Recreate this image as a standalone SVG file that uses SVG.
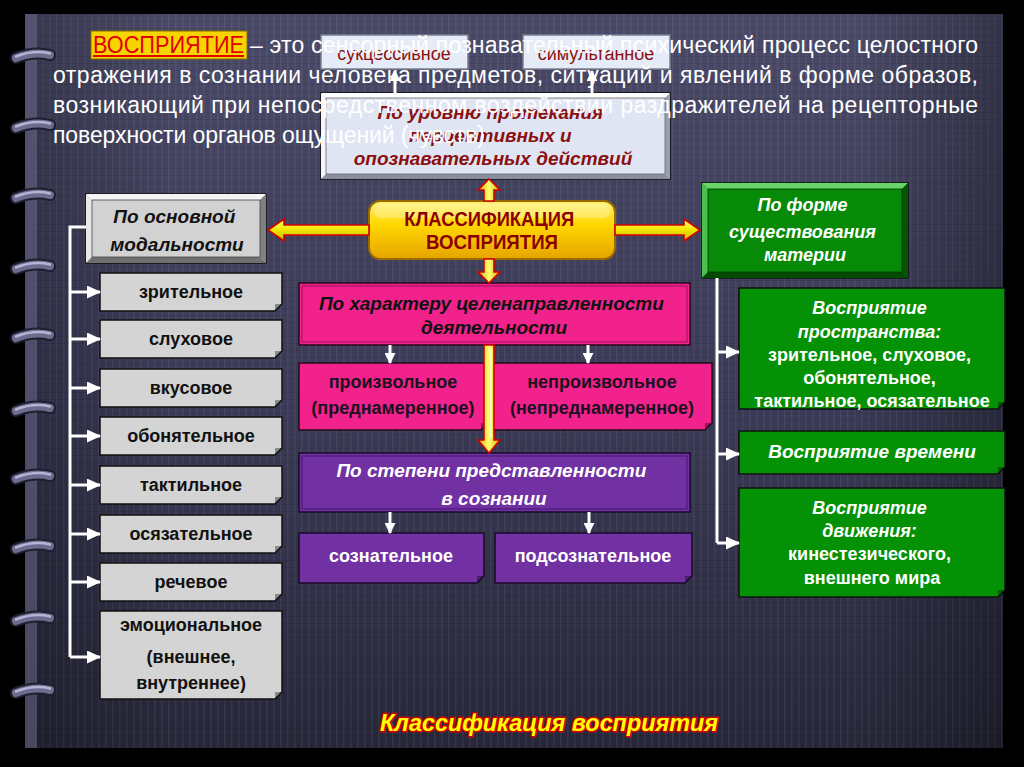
<svg xmlns="http://www.w3.org/2000/svg" width="1024" height="767" viewBox="0 0 1024 767">
<defs>
  <linearGradient id="panelG" x1="0" y1="0" x2="0" y2="1">
    <stop offset="0" stop-color="#4a4a68"/>
    <stop offset="0.55" stop-color="#3a3a56"/>
    <stop offset="1" stop-color="#27273a"/>
  </linearGradient>
  <linearGradient id="panelH" x1="0" y1="0" x2="1" y2="0">
    <stop offset="0" stop-color="#000" stop-opacity="0.25"/>
    <stop offset="0.15" stop-color="#000" stop-opacity="0"/>
    <stop offset="0.85" stop-color="#000" stop-opacity="0"/>
    <stop offset="1" stop-color="#000" stop-opacity="0.3"/>
  </linearGradient>
  <pattern id="stripes" width="7" height="7" patternUnits="userSpaceOnUse">
    <rect x="0" y="0" width="1.5" height="7" fill="#ffffff" fill-opacity="0.06"/>
    <rect x="0" y="0" width="7" height="1" fill="#000000" fill-opacity="0.08"/>
  </pattern>
  <linearGradient id="goldG" x1="0" y1="0" x2="0" y2="1">
    <stop offset="0" stop-color="#fff27a"/>
    <stop offset="0.4" stop-color="#ffd800"/>
    <stop offset="1" stop-color="#e6a400"/>
  </linearGradient>
  <linearGradient id="arrH" x1="0" y1="0" x2="0" y2="1">
    <stop offset="0" stop-color="#ffff70"/>
    <stop offset="0.5" stop-color="#f2e600"/>
    <stop offset="1" stop-color="#c8b400"/>
  </linearGradient>
  <linearGradient id="arrV" x1="0" y1="0" x2="1" y2="0">
    <stop offset="0" stop-color="#c8b400"/>
    <stop offset="0.5" stop-color="#ffff70"/>
    <stop offset="1" stop-color="#c8b400"/>
  </linearGradient>
  <linearGradient id="ringG" x1="0" y1="0" x2="0" y2="1">
    <stop offset="0" stop-color="#9a9abc"/>
    <stop offset="0.5" stop-color="#6a6a8c"/>
    <stop offset="1" stop-color="#2a2a40"/>
  </linearGradient>
  <marker id="wh" markerWidth="14" markerHeight="13" refX="13" refY="6.5" orient="auto" markerUnits="userSpaceOnUse">
    <path d="M0,0 L14,6.5 L0,13 Z" fill="#ffffff"/>
  </marker>
  <marker id="whs" markerWidth="11" markerHeight="11" refX="10" refY="5.5" orient="auto" markerUnits="userSpaceOnUse">
    <path d="M0,0 L11,5.5 L0,11 Z" fill="#ffffff"/>
  </marker>
  <path id="ringShape" d="M16,1 Q34,-6 50,-2"/>
  <style>
    .t { font-family: "Liberation Sans", Arial, sans-serif; text-anchor: middle; }
    .b { font-weight: bold; }
    .i { font-style: italic; font-weight: bold; }
    .grey { fill: #d4d4d4; stroke: #111; stroke-width: 1.5; }
    .green { fill: #059105; stroke: #111; stroke-width: 1.5; }
    .pink { fill: #f2228c; stroke: #2a0a1a; stroke-width: 1.5; }
    .purple { fill: #7131a3; stroke: #1a0a2a; stroke-width: 1.5; }
    .fold { fill: #000; fill-opacity: 0.35; }
    .wline { fill: none; stroke: #ffffff; stroke-width: 3; }
    .yarr { stroke: #d40000; stroke-width: 1.6; stroke-linejoin: miter; }
    .para { font-family: "Liberation Sans", Arial, sans-serif; font-size: 23px; fill: #ffffff; }
    .ring { fill: none; stroke-linecap: round; }
  </style>
</defs>

<!-- background -->
<rect x="0" y="0" width="1024" height="767" fill="#000"/>
<rect x="25" y="14" width="978" height="734" fill="url(#panelG)"/>
<rect x="25" y="14" width="978" height="734" fill="url(#stripes)"/>
<rect x="25" y="14" width="978" height="734" fill="url(#panelH)"/>
<rect x="25" y="14" width="12" height="734" fill="#6a6a8a" fill-opacity="0.55"/>

<!-- rings -->
<g id="rings">
  <g transform="translate(0,57)"><use href="#ringShape" class="ring" stroke="#1e1e2e" stroke-width="12"/><use href="#ringShape" class="ring" stroke="#6c6c8e" stroke-width="8"/><use href="#ringShape" class="ring" stroke="#b4b4d4" stroke-width="2.5" transform="translate(0,-1.5)"/></g>
  <g transform="translate(0,127)"><use href="#ringShape" class="ring" stroke="#1e1e2e" stroke-width="12"/><use href="#ringShape" class="ring" stroke="#6c6c8e" stroke-width="8"/><use href="#ringShape" class="ring" stroke="#b4b4d4" stroke-width="2.5" transform="translate(0,-1.5)"/></g>
  <g transform="translate(0,197)"><use href="#ringShape" class="ring" stroke="#1e1e2e" stroke-width="12"/><use href="#ringShape" class="ring" stroke="#6c6c8e" stroke-width="8"/><use href="#ringShape" class="ring" stroke="#b4b4d4" stroke-width="2.5" transform="translate(0,-1.5)"/></g>
  <g transform="translate(0,268)"><use href="#ringShape" class="ring" stroke="#1e1e2e" stroke-width="12"/><use href="#ringShape" class="ring" stroke="#6c6c8e" stroke-width="8"/><use href="#ringShape" class="ring" stroke="#b4b4d4" stroke-width="2.5" transform="translate(0,-1.5)"/></g>
  <g transform="translate(0,337)"><use href="#ringShape" class="ring" stroke="#1e1e2e" stroke-width="12"/><use href="#ringShape" class="ring" stroke="#6c6c8e" stroke-width="8"/><use href="#ringShape" class="ring" stroke="#b4b4d4" stroke-width="2.5" transform="translate(0,-1.5)"/></g>
  <g transform="translate(0,410)"><use href="#ringShape" class="ring" stroke="#1e1e2e" stroke-width="12"/><use href="#ringShape" class="ring" stroke="#6c6c8e" stroke-width="8"/><use href="#ringShape" class="ring" stroke="#b4b4d4" stroke-width="2.5" transform="translate(0,-1.5)"/></g>
  <g transform="translate(0,478)"><use href="#ringShape" class="ring" stroke="#1e1e2e" stroke-width="12"/><use href="#ringShape" class="ring" stroke="#6c6c8e" stroke-width="8"/><use href="#ringShape" class="ring" stroke="#b4b4d4" stroke-width="2.5" transform="translate(0,-1.5)"/></g>
  <g transform="translate(0,548)"><use href="#ringShape" class="ring" stroke="#1e1e2e" stroke-width="12"/><use href="#ringShape" class="ring" stroke="#6c6c8e" stroke-width="8"/><use href="#ringShape" class="ring" stroke="#b4b4d4" stroke-width="2.5" transform="translate(0,-1.5)"/></g>
  <g transform="translate(0,620)"><use href="#ringShape" class="ring" stroke="#1e1e2e" stroke-width="12"/><use href="#ringShape" class="ring" stroke="#6c6c8e" stroke-width="8"/><use href="#ringShape" class="ring" stroke="#b4b4d4" stroke-width="2.5" transform="translate(0,-1.5)"/></g>
  <g transform="translate(0,692)"><use href="#ringShape" class="ring" stroke="#1e1e2e" stroke-width="12"/><use href="#ringShape" class="ring" stroke="#6c6c8e" stroke-width="8"/><use href="#ringShape" class="ring" stroke="#b4b4d4" stroke-width="2.5" transform="translate(0,-1.5)"/></g>
</g>

<!-- top small nodes -->
<g id="n-sukcess">
  <rect x="321" y="35" width="147" height="34" fill="#e6ecf7" stroke="#7a7f90" stroke-width="1.5"/>
  <text class="t" x="394" y="60" font-size="18" fill="#8b1010">сукцессивное</text>
</g>
<g id="n-simult">
  <rect x="523" y="35" width="147" height="34" fill="#e6ecf7" stroke="#7a7f90" stroke-width="1.5"/>
  <text class="t" x="596" y="60" font-size="18" fill="#8b1010">симультанное</text>
</g>

<!-- По уровню протекания -->
<g id="n-uroven">
  <rect x="321" y="93" width="349" height="86" fill="#dfe5f2" stroke="#111" stroke-width="1.5"/>
  <polygon points="321,93 670,93 665,98 326,98" fill="#ffffff"/>
  <polygon points="321,93 326,98 326,174 321,179" fill="#f4f6fb"/>
  <polygon points="321,179 326,174 665,174 670,179" fill="#8a8fa0"/>
  <polygon points="670,93 670,179 665,174 665,98" fill="#9a9fb0"/>
  <rect x="326" y="98" width="339" height="76" fill="none" stroke="#666" stroke-width="0.8"/>
  <text class="t i" font-size="19" fill="#8b1010">
    <tspan x="493" y="119">По уровню протекания</tspan>
    <tspan x="493" y="142">перцептивных и</tspan>
    <tspan x="493" y="165">опознавательных действий</tspan>
  </text>
</g>

<!-- central node -->
<g id="n-class">
  <rect x="369" y="201" width="246" height="58" rx="11" fill="url(#goldG)" stroke="#9a6a00" stroke-width="2"/>
  <rect x="374" y="204" width="236" height="14" rx="7" fill="#ffffff" fill-opacity="0.25"/>
  <text class="t b" font-size="20" fill="#8b0000">
    <tspan x="492" y="226" textLength="170" lengthAdjust="spacingAndGlyphs">КЛАССИФИКАЦИЯ</tspan>
    <tspan x="492" y="249" textLength="132" lengthAdjust="spacingAndGlyphs">ВОСПРИЯТИЯ</tspan>
  </text>
</g>

<!-- По основной модальности -->
<g id="n-modal">
  <rect x="86" y="194" width="180" height="69" fill="#d2d2d2" stroke="#111" stroke-width="1.5"/>
  <polygon points="86,194 266,194 260,200 92,200" fill="#f4f4f4"/>
  <polygon points="86,194 92,200 92,257 86,263" fill="#e8e8e8"/>
  <polygon points="86,263 92,257 260,257 266,263" fill="#707070"/>
  <polygon points="266,194 266,263 260,257 260,200" fill="#808080"/>
  <rect x="92" y="200" width="168" height="57" fill="none" stroke="#444" stroke-width="0.8"/>
  <text class="t i" font-size="19" fill="#111">
    <tspan x="177" y="223">По основной</tspan>
    <tspan x="177" y="251">модальности</tspan>
  </text>
</g>

<!-- left items -->
<g id="n-zrit"><path class="grey" d="M100,273 H282 V304 L275,311 H100 Z"/><path class="fold" d="M282,304 L275,311 L275,304 Z"/><text class="t b" x="191" y="298" font-size="18" fill="#111">зрительное</text></g>
<g id="n-sluh"><path class="grey" d="M100,320 H282 V351 L275,358 H100 Z"/><path class="fold" d="M282,351 L275,358 L275,351 Z"/><text class="t b" x="191" y="345" font-size="18" fill="#111">слуховое</text></g>
<g id="n-vkus"><path class="grey" d="M100,369 H282 V400 L275,407 H100 Z"/><path class="fold" d="M282,400 L275,407 L275,400 Z"/><text class="t b" x="191" y="394" font-size="18" fill="#111">вкусовое</text></g>
<g id="n-obon"><path class="grey" d="M100,417 H282 V448 L275,455 H100 Z"/><path class="fold" d="M282,448 L275,455 L275,448 Z"/><text class="t b" x="191" y="442" font-size="18" fill="#111">обонятельное</text></g>
<g id="n-takt"><path class="grey" d="M100,466 H282 V497 L275,504 H100 Z"/><path class="fold" d="M282,497 L275,504 L275,497 Z"/><text class="t b" x="191" y="491" font-size="18" fill="#111">тактильное</text></g>
<g id="n-osyaz"><path class="grey" d="M100,515 H282 V546 L275,553 H100 Z"/><path class="fold" d="M282,546 L275,553 L275,546 Z"/><text class="t b" x="191" y="540" font-size="18" fill="#111">осязательное</text></g>
<g id="n-rech"><path class="grey" d="M100,563 H282 V594 L275,601 H100 Z"/><path class="fold" d="M282,594 L275,601 L275,594 Z"/><text class="t b" x="191" y="588" font-size="18" fill="#111">речевое</text></g>
<g id="n-emo"><path class="grey" d="M100,611 H282 V692 L275,699 H100 Z"/><path class="fold" d="M282,692 L275,699 L275,692 Z"/>
  <text class="t b" font-size="18" fill="#111"><tspan x="191" y="631">эмоциональное</tspan><tspan x="191" y="663">(внешнее,</tspan><tspan x="191" y="689">внутреннее)</tspan></text></g>

<!-- По форме существования материи -->
<g id="n-forma">
  <rect x="702" y="183" width="206" height="95" fill="#078a07" stroke="#111" stroke-width="1.5"/>
  <polygon points="702,183 908,183 902,189 708,189" fill="#66d466"/>
  <polygon points="702,183 708,189 708,272 702,278" fill="#4cc04c"/>
  <polygon points="702,278 708,272 902,272 908,278" fill="#034a03"/>
  <polygon points="908,183 908,278 902,272 902,189" fill="#045604"/>
  <rect x="708" y="189" width="194" height="83" fill="none" stroke="#023a02" stroke-width="0.8"/>
  <text class="t i" font-size="18" fill="#ffffff">
    <tspan x="805" y="211">По форме</tspan>
    <tspan x="805" y="238">существования</tspan>
    <tspan x="805" y="261">материи</tspan>
  </text>
</g>

<!-- green items -->
<g id="n-prostr"><path class="green" d="M739,288 H1005 V402 L998,409 H739 Z"/><path class="fold" d="M1005,402 L998,409 L998,402 Z"/>
  <text class="t" font-size="18" fill="#ffffff">
    <tspan class="i" x="872" y="314">Восприятие</tspan>
    <tspan class="i" x="872" y="338">пространства:</tspan>
    <tspan class="b" x="872" y="361">зрительное, слуховое,</tspan>
    <tspan class="b" x="872" y="384">обонятельное,</tspan>
    <tspan class="b" x="872" y="407">тактильное, осязательное</tspan>
  </text></g>
<g id="n-vremya"><path class="green" d="M739,431 H1005 V467 L998,474 H739 Z"/><path class="fold" d="M1005,467 L998,474 L998,467 Z"/>
  <text class="t i" x="872" y="458" font-size="19" fill="#ffffff">Восприятие времени</text></g>
<g id="n-dvizh"><path class="green" d="M739,488 H1005 V590 L998,597 H739 Z"/><path class="fold" d="M1005,590 L998,597 L998,590 Z"/>
  <text class="t" font-size="18" fill="#ffffff">
    <tspan class="i" x="872" y="514">Восприятие</tspan>
    <tspan class="i" x="872" y="537">движения:</tspan>
    <tspan class="b" x="872" y="560">кинестезического,</tspan>
    <tspan class="b" x="872" y="584">внешнего мира</tspan>
  </text></g>

<!-- pink -->
<g id="n-harakter">
  <rect x="299" y="283" width="391" height="62" class="pink"/>
  <rect x="302" y="286" width="385" height="56" fill="none" stroke="#8a0a4a" stroke-width="0.8"/>
  <text class="t i" font-size="19" fill="#111">
    <tspan x="494" y="310">По характеру целенаправленности</tspan>
    <tspan x="494" y="334">деятельности</tspan>
  </text>
</g>
<g id="n-proizv"><path class="pink" d="M299,363 H488 V423 L481,430 H299 Z"/><path class="fold" d="M488,423 L481,430 L481,423 Z"/>
  <text class="t b" font-size="18" fill="#1a1020"><tspan x="393" y="388">произвольное</tspan><tspan x="393" y="414">(преднамеренное)</tspan></text></g>
<g id="n-neproizv"><path class="pink" d="M493,363 H712 V423 L705,430 H493 Z"/><path class="fold" d="M712,423 L705,430 L705,423 Z"/>
  <text class="t b" font-size="18" fill="#1a1020"><tspan x="602" y="388">непроизвольное</tspan><tspan x="602" y="414">(непреднамеренное)</tspan></text></g>

<!-- purple -->
<g id="n-stepen">
  <rect x="299" y="453" width="391" height="59" class="purple"/>
  <rect x="302" y="456" width="385" height="53" fill="none" stroke="#3a1060" stroke-width="0.8"/>
  <text class="t i" font-size="19" fill="#ffffff">
    <tspan x="494" y="477">По степени представленности</tspan>
    <tspan x="494" y="505">в сознании</tspan>
  </text>
</g>
<g id="n-soznat"><path class="purple" d="M299,533 H484 V576 L477,583 H299 Z"/><path class="fold" d="M484,576 L477,583 L477,576 Z"/>
  <text class="t b" x="391" y="562" font-size="18" fill="#ffffff">сознательное</text></g>
<g id="n-podsoz"><path class="purple" d="M495,533 H692 V576 L685,583 H495 Z"/><path class="fold" d="M692,576 L685,583 L685,576 Z"/>
  <text class="t b" x="593" y="562" font-size="18" fill="#ffffff">подсознательное</text></g>

<!-- connectors -->
<g id="connectors">
  <polygon class="yarr" fill="url(#arrH)" points="268,230 284,219 284,225 369,225 369,235 284,235 284,241"/>
  <polygon class="yarr" fill="url(#arrH)" points="615,225 684,225 684,219 700,230 684,241 684,235 615,235"/>
  <polygon class="yarr" fill="url(#arrV)" points="489,179 500,190 494,190 494,201 484,201 484,190 478,190"/>
  <polygon class="yarr" fill="url(#arrV)" points="484,259 494,259 494,272 500,272 489,283 478,272 484,272"/>
  <polygon class="yarr" fill="url(#arrV)" points="484,345 494,345 494,440 500,440 489,453 478,440 484,440"/>
  <line x1="491" y1="348" x2="491" y2="438" stroke="#ffffff" stroke-width="1.2"/>
  <line class="wline" x1="395" y1="93" x2="395" y2="71" marker-end="url(#whs)"/>
  <line class="wline" x1="592" y1="93" x2="592" y2="71" marker-end="url(#whs)"/>
  <polyline class="wline" points="86,227 70,227 70,657"/>
  <line class="wline" x1="70" y1="292" x2="100" y2="292" marker-end="url(#wh)"/>
  <line class="wline" x1="70" y1="339" x2="100" y2="339" marker-end="url(#wh)"/>
  <line class="wline" x1="70" y1="388" x2="100" y2="388" marker-end="url(#wh)"/>
  <line class="wline" x1="70" y1="436" x2="100" y2="436" marker-end="url(#wh)"/>
  <line class="wline" x1="70" y1="485" x2="100" y2="485" marker-end="url(#wh)"/>
  <line class="wline" x1="70" y1="534" x2="100" y2="534" marker-end="url(#wh)"/>
  <line class="wline" x1="70" y1="582" x2="100" y2="582" marker-end="url(#wh)"/>
  <line class="wline" x1="70" y1="657" x2="100" y2="657" marker-end="url(#wh)"/>
  <polyline class="wline" points="717,278 717,543"/>
  <line class="wline" x1="717" y1="352" x2="739" y2="352" marker-end="url(#wh)"/>
  <line class="wline" x1="717" y1="454" x2="739" y2="454" marker-end="url(#wh)"/>
  <line class="wline" x1="717" y1="543" x2="739" y2="543" marker-end="url(#wh)"/>
  <line class="wline" x1="390" y1="345" x2="390" y2="363" marker-end="url(#whs)"/>
  <line class="wline" x1="588" y1="345" x2="588" y2="363" marker-end="url(#whs)"/>
  <line class="wline" x1="390" y1="512" x2="390" y2="533" marker-end="url(#whs)"/>
  <line class="wline" x1="589" y1="512" x2="589" y2="533" marker-end="url(#whs)"/>
</g>

<!-- definition paragraph (drawn over the top boxes, as in the picture) -->
<g id="definition">
  <rect x="91" y="31" width="156" height="28" fill="#f7d400" stroke="#8a6a00" stroke-width="1"/>
  <text x="93" y="53" font-family="Liberation Sans, Arial, sans-serif" font-size="23" fill="#e00000" textLength="151" lengthAdjust="spacingAndGlyphs">ВОСПРИЯТИЕ</text>
  <line x1="93" y1="56" x2="244" y2="56" stroke="#e00000" stroke-width="1.8"/>
  <text class="para" x="250" y="53" textLength="728" lengthAdjust="spacing">– это сенсорный познавательный психический процесс целостного</text>
  <text class="para" x="53" y="83" textLength="925" lengthAdjust="spacing">отражения в сознании человека предметов, ситуаций и явлений в форме образов,</text>
  <text class="para" x="53" y="113" textLength="925" lengthAdjust="spacing">возникающий при непосредственном воздействии раздражителей на рецепторные</text>
  <text class="para" x="53" y="143" textLength="432" lengthAdjust="spacing">поверхности органов ощущений (чувств)</text>
</g>

<!-- bottom caption -->
<g id="caption">
  <text class="t" x="549" y="731" font-size="24" font-weight="bold" font-style="italic" fill="#ffff00" stroke="#d00000" stroke-width="3" paint-order="stroke" stroke-linejoin="round" textLength="338" lengthAdjust="spacingAndGlyphs">Классификация восприятия</text>
</g>
</svg>
